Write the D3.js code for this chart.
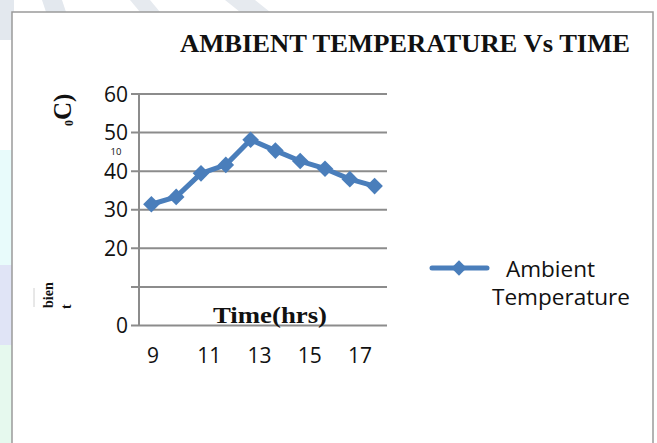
<!DOCTYPE html>
<html>
<head>
<meta charset="utf-8">
<script src="https://cdn.jsdelivr.net/npm/d3@7"></script>
<style>
  html, body { margin: 0; padding: 0; background: #ffffff; }
  svg { display: block; }
</style>
</head>
<body>
<svg id="chart" width="657" height="443"></svg>
<script>
// ---- data ----
const hours = [9, 10, 11, 12, 13, 14, 15, 16, 17, 18];
const temps = [31.3, 33.2, 39.3, 41.5, 48.0, 45.2, 42.5, 40.5, 37.8, 36.0];
const xTickLabels = [9, 11, 13, 15, 17];
const yTicks = [0, 10, 20, 30, 40, 50, 60];
const yTickLabels = ["0", "", "20", "30", "40", "50", "60"];
const seriesName = ["Ambient", "Temperature"];
const titleText = "AMBIENT TEMPERATURE Vs TIME";
const xTitle = "Time(hrs)";

const svg = d3.select("#chart");
const blue = "#4a7ebb";
const grid = "#8c8c8c";
const sans = "'Open Sans', 'Noto Sans', sans-serif";
const serif = "'Liberation Serif', 'Times New Roman', serif";

// faint watermark shapes in the page background
const bg = svg.append("g");
bg.append("path").attr("d", "M0,0 L14,0 L14,40 L0,40 Z").attr("fill", "#e3e8ee");
bg.append("path").attr("d", "M42,0 L62,0 L66,12 L46,12 Z").attr("fill", "#e3e8ee");
bg.append("path").attr("d", "M130,0 L150,0 L160,12 L140,12 Z").attr("fill", "#e6eaef");
bg.append("path").attr("d", "M225,0 L255,0 L270,12 L240,12 Z").attr("fill", "#e6eaef");
bg.append("path").attr("d", "M0,150 L12,150 L12,265 L0,265 Z").attr("fill", "#e8fbfb");
bg.append("path").attr("d", "M0,265 L12,265 L12,345 L0,345 Z").attr("fill", "#e0e4f6");
bg.append("path").attr("d", "M0,345 L12,345 L12,443 L0,443 Z").attr("fill", "#e6f9ee");

// chart frame
svg.append("rect")
  .attr("x", 12).attr("y", 12).attr("width", 641).attr("height", 440)
  .attr("fill", "#ffffff").attr("stroke", "#9a9a9a").attr("stroke-width", 1.5);

// scales
const plotLeft = 139, plotRight = 387, plotTop = 93.5, plotBottom = 325;
const x = d3.scalePoint().domain(hours).range([plotLeft, plotRight]).padding(0.5);
const y = d3.scaleLinear().domain([0, 60]).range([plotBottom, plotTop]);
const xLab = d3.scalePoint().domain(xTickLabels).range([147, 348]);

// gridlines + y ticks
const yAxis = d3.axisLeft(y).tickValues(yTicks)
  .tickSize(-(plotRight - plotLeft + 8))
  .tickFormat((d, i) => yTickLabels[i]);
const gy = svg.append("g").attr("transform", `translate(${plotLeft - 8},0)`).call(yAxis);
gy.select(".domain").remove();
gy.selectAll(".tick line").attr("stroke", grid).attr("stroke-width", 2)
  .attr("x1", 0).attr("x2", plotRight - plotLeft + 8);
gy.selectAll(".tick text")
  .attr("x", -3).attr("dy", "0.36em")
  .attr("font-family", sans).attr("font-size", 21)
  .attr("fill", "#111");

// y axis line
svg.append("line")
  .attr("x1", plotLeft).attr("x2", plotLeft)
  .attr("y1", y(60)).attr("y2", y(0) + 1)
  .attr("stroke", grid).attr("stroke-width", 2);

// x tick labels
svg.append("g").selectAll("text").data(xTickLabels).join("text")
  .attr("x", d => xLab(d)).attr("y", 363)
  .attr("text-anchor", "start")
  .attr("font-family", sans).attr("font-size", 21)
  .attr("fill", "#111")
  .text(d => d);

// series line
const line = d3.line().x((d, i) => x(hours[i])).y(d => y(d));
svg.append("path").datum(temps)
  .attr("d", line).attr("fill", "none")
  .attr("stroke", blue).attr("stroke-width", 5).attr("stroke-linejoin", "round");

const diamond = d3.symbol().type(d3.symbolDiamond2).size(175);
svg.append("g").selectAll("path").data(temps).join("path")
  .attr("transform", (d, i) => `translate(${x(hours[i])},${y(d)})`)
  .attr("d", diamond).attr("fill", blue);

// title
svg.append("text")
  .attr("x", 180).attr("y", 52)
  .attr("textLength", 450).attr("lengthAdjust", "spacingAndGlyphs")
  .attr("font-family", serif)
  .attr("font-weight", "bold").attr("font-size", 26)
  .attr("fill", "#111").text(titleText);

// x axis title
svg.append("text")
  .attr("x", 213).attr("y", 323)
  .attr("textLength", 114).attr("lengthAdjust", "spacingAndGlyphs")
  .attr("font-family", serif)
  .attr("font-weight", "bold").attr("font-size", 24)
  .attr("fill", "#111").text(xTitle);

// garbled y axis title fragments
const yt = svg.append("text")
  .attr("transform", "translate(73,126) rotate(-90)")
  .attr("font-family", serif)
  .attr("font-weight", "bold").attr("fill", "#111");
yt.append("tspan").attr("font-size", 12).attr("dy", 0).text("0");
yt.append("tspan").attr("font-size", 25).attr("dy", -2).text("C)");

svg.append("text")
  .attr("transform", "translate(53,308) rotate(-90)")
  .attr("font-family", serif)
  .attr("font-weight", "bold").attr("font-size", 14)
  .attr("fill", "#111").text("bien");
svg.append("text")
  .attr("transform", "translate(71,309) rotate(-90)")
  .attr("font-family", serif)
  .attr("font-weight", "bold").attr("font-size", 14)
  .attr("fill", "#111").text("t");
svg.append("line")
  .attr("x1", 34).attr("x2", 34).attr("y1", 288).attr("y2", 307)
  .attr("stroke", "#d0d0d0").attr("stroke-width", 1);

svg.append("text")
  .attr("x", 116).attr("y", 155)
  .attr("text-anchor", "middle")
  .attr("font-family", sans).attr("font-size", 9.5)
  .attr("fill", "#111").text("10");

// legend
const lg = svg.append("g");
lg.append("line")
  .attr("x1", 432).attr("x2", 487).attr("y1", 268).attr("y2", 268)
  .attr("stroke", blue).attr("stroke-width", 5).attr("stroke-linecap", "round");
lg.append("path").attr("transform", "translate(459,268)")
  .attr("d", d3.symbol().type(d3.symbolDiamond2).size(150)).attr("fill", blue);
lg.append("text")
  .attr("x", 506).attr("y", 277)
  .attr("textLength", 89).attr("lengthAdjust", "spacingAndGlyphs")
  .attr("font-family", sans).attr("font-size", 22)
  .attr("fill", "#111").text(seriesName[0]);
lg.append("text")
  .attr("x", 492).attr("y", 305)
  .attr("textLength", 138).attr("lengthAdjust", "spacingAndGlyphs")
  .attr("font-family", sans).attr("font-size", 22)
  .attr("fill", "#111").text(seriesName[1]);
</script>
</body>
</html>
